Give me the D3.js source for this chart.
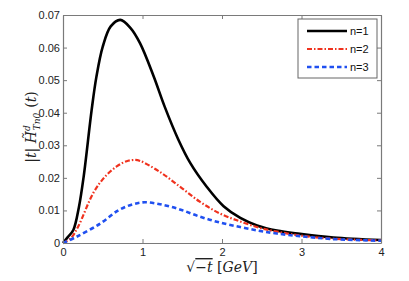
<!DOCTYPE html>
<html>
<head>
<meta charset="utf-8">
<script src="https://cdn.jsdelivr.net/npm/d3@7"></script>
<style>
body { margin: 0; background: #fff; }
svg text { font-family: "Liberation Sans", Arial, sans-serif; }
</style>
</head>
<body>
<script>
// values
var xTicks = [0, 1, 2, 3, 4]
var yTicks = [0, 0.01, 0.02, 0.03, 0.04, 0.05, 0.06, 0.07]
var seriesNames = ["n=1", "n=2", "n=3"]

var xs1 = [0, 0.06, 0.13, 0.2, 0.26, 0.36, 0.42, 0.5, 0.6, 0.72, 0.85, 0.97, 1.14, 1.28, 1.45, 1.6, 1.81, 2.02, 2.23, 2.44, 2.69, 2.98, 3.4, 4]
var ys1 = [0, 0.0018, 0.004, 0.011, 0.0204, 0.0408, 0.051, 0.0603, 0.0665, 0.0685, 0.066, 0.0613, 0.0512, 0.0418, 0.0318, 0.0246, 0.0172, 0.0113, 0.0077, 0.0054, 0.0038, 0.0028, 0.0017, 0.0009]

var xs2 = [0, 0.1, 0.19, 0.38, 0.53, 0.675, 0.8, 0.906, 0.97, 1.22, 1.47, 1.72, 1.97, 2.23, 2.48, 2.69, 2.98, 3.4, 4]
var ys2 = [0, 0.0015, 0.005, 0.0153, 0.0204, 0.0235, 0.0251, 0.0255, 0.0252, 0.0218, 0.0173, 0.0127, 0.0091, 0.0066, 0.0046, 0.0035, 0.0023, 0.0013, 0.0008]

var xs3 = [0, 0.17, 0.47, 0.7, 0.88, 1.03, 1.22, 1.47, 1.72, 1.97, 2.23, 2.48, 2.69, 2.98, 3.4, 4]
var ys3 = [0, 0.0019, 0.006, 0.0101, 0.0119, 0.0125, 0.0119, 0.0103, 0.0081, 0.0063, 0.0049, 0.0037, 0.0029, 0.0021, 0.0012, 0.0007]

var W = 409, H = 281
var margin = {left: 63, top: 15, right: 28, bottom: 38}
var width = W - margin.left - margin.right
var height = H - margin.top - margin.bottom

var x = d3.scaleLinear().domain([0, 4]).range([0, width])
var y = d3.scaleLinear().domain([0, 0.07]).range([height, 0])

var svg = d3.select("body").append("svg").attr("width", W).attr("height", H)
var main = svg.append("g").attr("transform", "translate(" + margin.left + "," + margin.top + ")")

// curves
var line = d3.line().x(function(d) { return x(d[0]) }).y(function(d) { return y(d[1]) }).curve(d3.curveCatmullRom.alpha(0.5))
var series = [
    {xs: xs1, ys: ys1, color: "#000", width: 2.6, dash: null},
    {xs: xs2, ys: ys2, color: "#f0321e", width: 2.2, dash: "5,2,1.5,2"},
    {xs: xs3, ys: ys3, color: "#2050f0", width: 2.6, dash: "4.5,3"}
]
series.forEach(function(s) {
    var pts = s.xs.map(function(v, i) { return [v, s.ys[i]] })
    main.append("path").datum(pts).attr("d", line)
        .attr("fill", "none").attr("stroke", s.color).attr("stroke-width", s.width)
        .attr("stroke-dasharray", s.dash).attr("stroke-linejoin", "round")
})

// axes box with inward ticks
var axColor = "#7a7a7a"
main.append("g").attr("transform", "translate(0," + height + ")")
    .call(d3.axisBottom(x).tickValues(xTicks).tickFormat(d3.format("d")).tickSizeInner(-4).tickSizeOuter(0).tickPadding(5))
main.append("g")
    .call(d3.axisLeft(y).tickValues(yTicks).tickFormat(function(d) { return d == 0 ? "0" : d3.format(".2f")(d) }).tickSizeInner(-4).tickSizeOuter(0).tickPadding(3))
main.append("g")
    .call(d3.axisTop(x).tickValues(xTicks).tickFormat("").tickSizeInner(-4).tickSizeOuter(0))
main.append("g").attr("transform", "translate(" + width + ",0)")
    .call(d3.axisRight(y).tickValues(yTicks).tickFormat("").tickSizeInner(-4).tickSizeOuter(0))
main.selectAll(".domain").attr("stroke", axColor).attr("stroke-width", 1.2)
main.selectAll(".tick line").attr("stroke", axColor)
main.selectAll(".tick text").attr("fill", "#222").style("font-size", "11px")

// legend
var lg = svg.append("g").attr("transform", "translate(298,19)")
lg.append("rect").attr("width", 79).attr("height", 59).attr("fill", "#fff").attr("stroke", "#666").attr("stroke-width", 1)
series.forEach(function(s, i) {
    var ly = 12 + i * 18
    lg.append("line").attr("x1", 9).attr("x2", 49).attr("y1", ly).attr("y2", ly)
        .attr("stroke", s.color).attr("stroke-width", s.width).attr("stroke-dasharray", s.dash)
    lg.append("text").attr("x", 52).attr("y", ly + 4).text(seriesNames[i]).style("font-size", "11px").attr("fill", "#111")
})

// x label
var xl = svg.append("text").attr("x", 222).attr("y", 272).attr("text-anchor", "middle")
    .style("font-family", "'DejaVu Serif', serif").style("font-size", "14px").attr("fill", "#222")
xl.append("tspan").text("\u221A").style("font-style", "normal")
xl.append("tspan").text("\u2212t").style("font-style", "italic").attr("text-decoration", "overline")
xl.append("tspan").text("  [").style("font-style", "normal")
xl.append("tspan").text("GeV").style("font-style", "italic")
xl.append("tspan").text("]").style("font-style", "normal")

// y label
var yl = svg.append("text").attr("transform", "translate(36,127) rotate(-90)").attr("text-anchor", "middle")
    .style("font-family", "'DejaVu Serif', serif").style("font-size", "14px").attr("fill", "#222")
yl.append("tspan").text("|")
yl.append("tspan").text("t").style("font-style", "italic")
yl.append("tspan").text("| ")
yl.append("tspan").text("H\u0303").style("font-style", "italic")
yl.append("tspan").text("d").style("font-style", "italic").style("font-size", "9px").attr("dy", -6)
yl.append("tspan").text("Tn0").style("font-style", "italic").style("font-size", "9px").attr("dx", -5).attr("dy", 10)
yl.append("tspan").text("(").attr("dx", 5).attr("dy", -4)
yl.append("tspan").text("t").style("font-style", "italic")
yl.append("tspan").text(")")
</script>
</body>
</html>
